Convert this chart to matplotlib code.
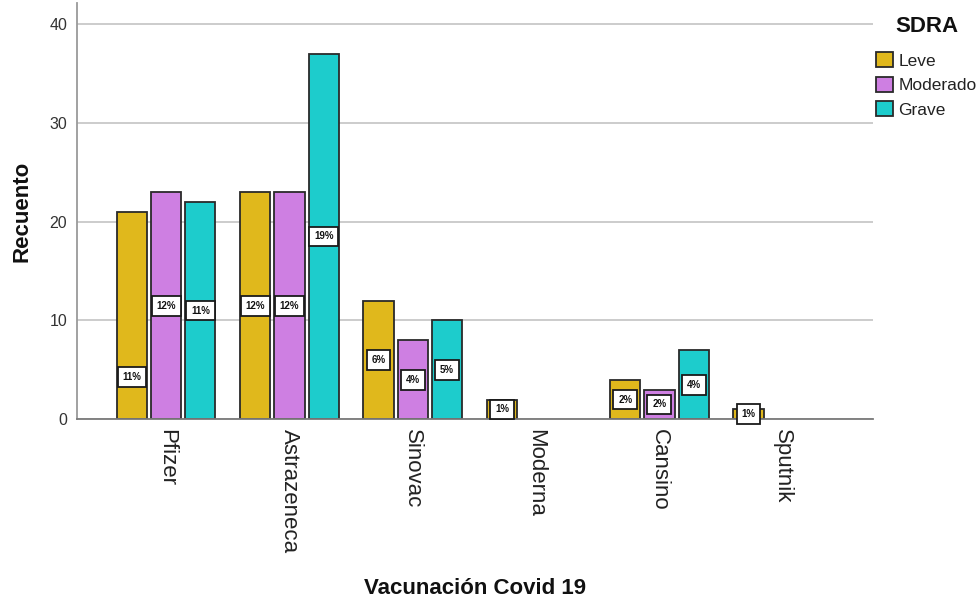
import matplotlib
matplotlib.use("Agg")
import matplotlib.pyplot as plt
import matplotlib.transforms as mtransforms
import numpy as np

plt.rcParams['font.family'] = ['Liberation Sans', 'DejaVu Sans']

# Counts per vaccine, split by SDRA severity
vacunas = ["Pfizer", "Astrazeneca", "Sinovac", "Moderna", "Cansino", "Sputnik"]
niveles = ["Leve", "Moderado", "Grave"]
leve = [21, 23, 12, 2, 4, 1]
moderado = [23, 23, 8, 0, 3, 0]
grave = [22, 37, 10, 0, 7, 0]
y_ticks = [0, 10, 20, 30, 40]

colores = {"Leve": "#E0B81C", "Moderado": "#CE7FE2", "Grave": "#1DCCCC"}
series = {"Leve": leve, "Moderado": moderado, "Grave": grave}

# label placed lower than mid-bar to keep it clear of its neighbours
label_y_override = {("Pfizer", "Leve"): 4.3}

total = sum(leve) + sum(moderado) + sum(grave)

fig = plt.figure(figsize=(9.78, 6.03), dpi=100)
ax = fig.add_axes([77 / 978, 1 - 419.3 / 603, 796 / 978, 416 / 603])

x = np.arange(len(vacunas))
width = 0.245
step = 0.2775

for j, nivel in enumerate(niveles):
    vals = series[nivel]
    for i, v in enumerate(vals):
        if v <= 0:
            continue
        xpos = x[i] + (j - 1) * step
        ax.bar(xpos, v, width=width, color=colores[nivel], edgecolor="#2a2a2a",
               linewidth=1.3, zorder=3)
        ypos = label_y_override.get((vacunas[i], nivel), v / 2)
        pct = round(100 * v / total)
        ax.text(xpos, ypos, f"{pct}%", ha="center", va="center", fontsize=7,
                fontweight="bold", color="#111111", zorder=5,
                bbox=dict(boxstyle="square,pad=0.5", fc="white", ec="#1a1a1a", lw=1.3))

ax.set_xlim(-0.723, 5.732)
ax.set_ylim(0, 42.1)
ax.set_yticks(y_ticks)
ax.set_xticks(x)
ax.set_xticklabels(vacunas, rotation=270, fontsize=16, color="#222222")
offset = mtransforms.ScaledTranslation(-5 / 100, 0, fig.dpi_scale_trans)
for lbl in ax.get_xticklabels():
    lbl.set_transform(lbl.get_transform() + offset)
ax.tick_params(axis="x", length=0, pad=7)
ax.tick_params(axis="y", length=0, pad=7, labelsize=11.5, labelcolor="#333333")

ax.yaxis.grid(True, color="#C4C4C4", linewidth=1.2, zorder=0)
ax.set_axisbelow(True)
for s in ["top", "right"]:
    ax.spines[s].set_visible(False)
ax.spines["left"].set_color("#9A9A9A")
ax.spines["left"].set_linewidth(1.3)
ax.spines["bottom"].set_color("#7A7A7A")
ax.spines["bottom"].set_linewidth(1.3)
ax.spines["bottom"].set_zorder(4)

ax.set_xlabel("Vacunación Covid 19", fontsize=16, fontweight="bold", color="#111111")
ax.xaxis.set_label_coords(0.5, (419.3 - 589) / 416)
ax.xaxis.label.set_va("center")
ax.set_ylabel("Recuento", fontsize=16, fontweight="bold", color="#111111")
ax.yaxis.set_label_coords((22 - 77) / 796, 0.5)
ax.yaxis.label.set_va("center")

# Legend: title drawn as its own text, entries below it
fig.text(927 / 978, 1 - 27 / 603, "SDRA", fontsize=16, fontweight="bold",
         color="#111111", ha="center", va="center")
handles = [plt.Rectangle((0, 0), 1, 1, fc=colores[n], ec="#2a2a2a", lw=1.3) for n in niveles]
leg = fig.legend(handles, niveles, loc="upper left",
                 bbox_to_anchor=(876 / 978, 1 - 52.5 / 603), frameon=False,
                 fontsize=12.5, borderpad=0, borderaxespad=0,
                 handlelength=0.98, handleheight=0.95, handletextpad=0.3,
                 labelspacing=0.46)
for t in leg.get_texts():
    t.set_color("#222222")

fig.savefig("out.png", dpi=100)
